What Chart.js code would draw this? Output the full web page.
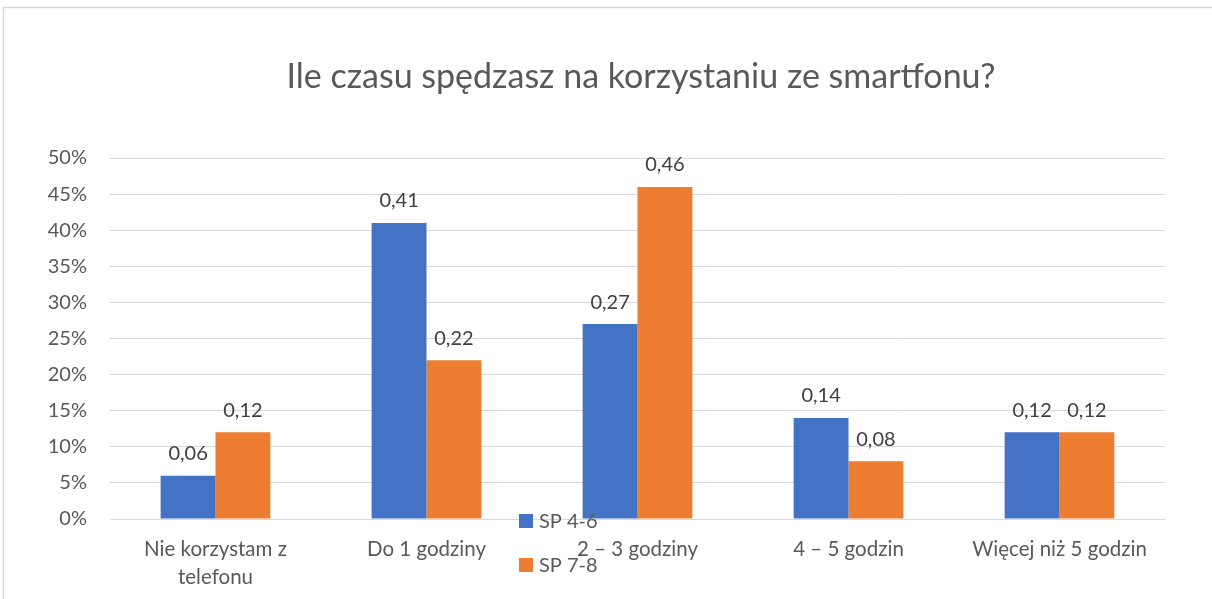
<!DOCTYPE html>
<html>
<head>
<meta charset="utf-8">
<script src="https://cdn.jsdelivr.net/npm/chart.js@4"></script>
<style>
  html, body { margin: 0; padding: 0; background: #fff; }
  #wrap { position: relative; width: 1212px; height: 599px; }
</style>
</head>
<body>
<div id="wrap"><canvas id="chart" width="1212" height="599"></canvas></div>
<script>
// Data
const chartTitle = 'Ile czasu spędzasz na korzystaniu ze smartfonu?';
const categories = [
    ['Nie korzystam z', 'telefonu'],
    'Do 1 godziny',
    '2 – 3 godziny',
    '4 – 5 godzin',
    'Więcej niż 5 godzin'
];
const seriesNames = ['SP 4-6', 'SP 7-8'];
const sp46 = [0.06, 0.41, 0.27, 0.14, 0.12];
const sp78 = [0.12, 0.22, 0.46, 0.08, 0.12];
const yTicks = [0, 0.05, 0.10, 0.15, 0.20, 0.25, 0.30, 0.35, 0.40, 0.45, 0.50];

const colors = {
    blue: '#4472C4',
    orange: '#ED7D31',
    grid: '#d9d9d9',
    text: '#595959',
    label: '#404040'
};
const FONT = 'Lato, "Open Sans", sans-serif';

// Frame around the chart (cropped on right/bottom) + title
const framePlugin = {
    id: 'frame',
    beforeDraw(chart) {
        const c = chart.ctx;
        c.save();
        c.fillStyle = '#fff';
        c.fillRect(0, 0, chart.width, chart.height);
        c.strokeStyle = '#d9d9d9';
        c.lineWidth = 1.5;
        c.beginPath();
        c.moveTo(3.5, chart.height);
        c.lineTo(3.5, 7.5);
        c.lineTo(chart.width, 7.5);
        c.stroke();

        // title is centred on the whole chart box, not the plot
        c.font = '34px ' + FONT;
        c.fillStyle = colors.text;
        c.textAlign = 'center';
        c.textBaseline = 'middle';
        c.fillText(chartTitle, 641, 77);
        c.restore();
    }
};

// Value labels above bars
const valueLabels = {
    id: 'valueLabels',
    afterDatasetsDraw(chart) {
        const c = chart.ctx;
        c.save();
        c.font = '20px ' + FONT;
        c.fillStyle = colors.label;
        c.textAlign = 'center';
        c.textBaseline = 'middle';
        chart.data.datasets.forEach((ds, i) => {
            chart.getDatasetMeta(i).data.forEach((bar, j) => {
                c.fillText(ds.data[j].toFixed(2).replace('.', ','), bar.x, bar.y - 22);
            });
        });
        c.restore();
    }
};

// Legend drawn where the original has it (overlapping the axis labels)
const floatingLegend = {
    id: 'floatingLegend',
    afterDraw(chart) {
        const c = chart.ctx;
        c.save();
        c.font = '20px ' + FONT;
        c.textBaseline = 'middle';
        c.textAlign = 'left';
        chart.data.datasets.forEach((ds, i) => {
            const y = 521 + i * 44;
            c.fillStyle = ds.backgroundColor;
            c.fillRect(519, y - 7, 14, 14);
            c.fillStyle = colors.text;
            c.fillText(ds.label, 539, y + 1);
        });
        c.restore();
    }
};

new Chart(document.getElementById('chart'), {
    type: 'bar',
    data: {
        labels: categories,
        datasets: [
            { label: seriesNames[0], data: sp46, backgroundColor: colors.blue },
            { label: seriesNames[1], data: sp78, backgroundColor: colors.orange }
        ]
    },
    options: {
        responsive: false,
        animation: false,
        layout: { padding: { left: 0, right: 47, top: 158, bottom: 0 } },
        datasets: {
            bar: { barPercentage: 1, categoryPercentage: 0.52 }
        },
        plugins: {
            legend: { display: false },
            tooltip: { enabled: false },
            title: { display: false }
        },
        scales: {
            x: {
                grid: { display: false, drawTicks: false },
                border: { display: true, color: colors.grid, width: 1 },
                ticks: {
                    color: colors.text,
                    font: { family: FONT, size: 20.5, lineHeight: 1.33 },
                    padding: 17,
                    maxRotation: 0,
                    autoSkip: false
                },
                afterFit(scale) { scale.height = 80; }
            },
            y: {
                min: 0,
                max: 0.5,
                afterBuildTicks(scale) {
                    scale.ticks = yTicks.map(v => ({ value: v }));
                },
                grid: { color: colors.grid, lineWidth: 1, drawTicks: false },
                border: { display: false },
                ticks: {
                    color: colors.text,
                    font: { family: FONT, size: 20 },
                    padding: 23,
                    callback: v => Math.round(v * 100) + '%'
                },
                afterFit(scale) { scale.width = 110; }
            }
        }
    },
    plugins: [framePlugin, valueLabels, floatingLegend]
});
</script>
</body>
</html>
